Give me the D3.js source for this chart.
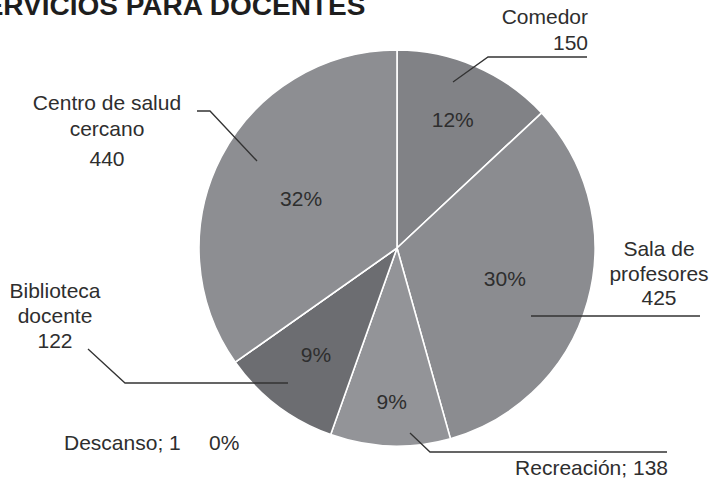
<!DOCTYPE html>
<html>
<head>
<meta charset="utf-8">
<script src="https://cdn.jsdelivr.net/npm/d3@7"></script>
<style>
  body { margin: 0; background: #fff; }
  text { font-family: "Liberation Sans", Arial, sans-serif; fill: #2e2e2e; }
</style>
</head>
<body>
<div id="chart"></div>
<script>
var width = 713;
var height = 480;

// data
var services = ["Comedor", "Sala de profesores", "Recreación", "Biblioteca docente", "Descanso", "Centro de salud cercano"];
var counts = [150, 425, 138, 122, 1, 440];
var percents = [12, 30, 9, 9, 0, 32];

var colors = ["#818286", "#8b8c90", "#939498", "#6c6d71", "#8b8c90", "#8d8e92"];

// label layout (lines of text, anchor, leader polyline)
var outer = [
    {lines: ["Comedor", "150"], x: 588, y: [24, 50], anchor: "end",
     leader: [[453, 82], [488, 57], [587, 57]]},
    {lines: ["Sala de", "profesores", "425"], x: 659, y: [256, 281, 305], anchor: "middle",
     leader: [[531, 316], [700, 316]]},
    {lines: ["Recreación; 138"], x: 668, y: [475], anchor: "end",
     leader: [[410, 433], [430, 452], [667, 452]]},
    {lines: ["Biblioteca", "docente", "122"], x: 55, y: [298, 323, 348], anchor: "middle",
     leader: [[88, 349], [125, 383], [288, 383]]},
    {lines: ["Descanso; 1"], x: 64, y: [450], anchor: "start", leader: null},
    {lines: ["Centro de salud", "cercano", "440"], x: 107, y: [110, 136, 166], anchor: "middle",
     leader: [[197, 111], [210, 111], [257, 161]]}
];
var pctRadius = [140, 112, 154, 134, 0, 108];

var cx = 397, cy = 248, radius = 198;
var fontSize = 21;

var svg = d3.select("#chart")
    .append("svg")
    .attr("width", width)
    .attr("height", height);

// title is cut at the left/top edge in the original
svg.append("text")
    .attr("x", -34)
    .attr("y", 15)
    .attr("font-size", 28)
    .attr("font-weight", "bold")
    .style("fill", "#1e1e1e")
    .text("SERVICIOS PARA DOCENTES");

var pie = d3.pie().sort(null).value(d => d);
var arcs = pie(percents);
var arc = d3.arc().innerRadius(0).outerRadius(radius);

var g = svg.append("g").attr("transform", "translate(" + cx + "," + cy + ")");

g.selectAll(".slice")
    .data(arcs)
    .enter().append("path")
    .attr("class", "slice")
    .attr("d", arc)
    .style("fill", (d, i) => colors[i])
    .style("stroke", "#fff")
    .style("stroke-width", 1.6);

// percentage labels inside slices
g.selectAll(".pct")
    .data(arcs.filter(d => d.value > 0))
    .enter().append("text")
    .attr("class", "pct")
    .attr("text-anchor", "middle")
    .attr("dy", "0.35em")
    .attr("font-size", fontSize)
    .attr("transform", function(d) {
        var r = pctRadius[d.index];
        var c = d3.arc().innerRadius(r).outerRadius(r).centroid(d);
        return "translate(" + c[0] + "," + c[1] + ")";
    })
    .text(d => percents[d.index] + "%");

// leader lines
var line = d3.line();
svg.selectAll(".leader")
    .data(outer.filter(d => d.leader))
    .enter().append("path")
    .attr("class", "leader")
    .attr("d", d => line(d.leader))
    .style("fill", "none")
    .style("stroke", "#333")
    .style("stroke-width", 1.3);

// outside labels
outer.forEach(function(o, i) {
    var t = svg.append("text")
        .attr("text-anchor", o.anchor)
        .attr("font-size", fontSize);
    o.lines.forEach(function(s, j) {
        t.append("tspan").attr("x", o.x).attr("y", o.y[j]).text(s);
    });
});

// the empty slice shows its percentage next to its label
svg.append("text")
    .attr("x", 209)
    .attr("y", 450)
    .attr("font-size", fontSize)
    .text(percents[4] + "%");
</script>
</body>
</html>
